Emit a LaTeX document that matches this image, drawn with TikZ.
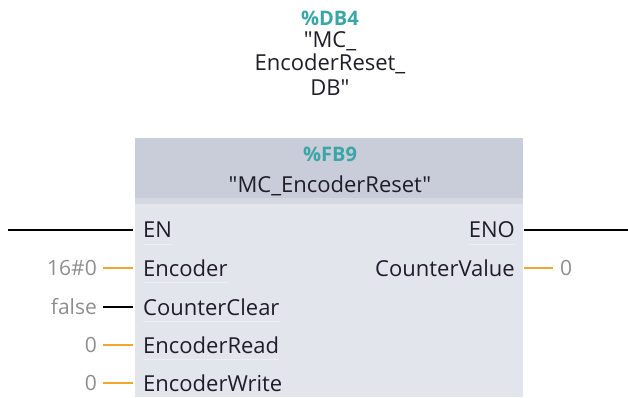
\documentclass[tikz,border=0pt]{standalone}
\usepackage{fontspec}
\setmainfont{Open Sans}[Ligatures=TeXOff]
\definecolor{hdrfill}{HTML}{C9CCD9}
\definecolor{bodyfill}{HTML}{E3E5EC}
\definecolor{tagteal}{HTML}{3AA6A8}
\definecolor{amber}{HTML}{F2A62C}
\definecolor{paramgray}{HTML}{8E8E8E}
\definecolor{ink}{HTML}{1E1E28}
\tikzset{
  txt/.style={inner sep=0pt, text=ink, font=\fontsize{22}{24}\selectfont},
  tag/.style={txt, text=tagteal, font=\fontsize{20}{24}\selectfont\bfseries},
  pinin/.style={txt, anchor=west},
  pinout/.style={txt, anchor=east},
  param/.style={inner sep=0pt, text=paramgray, font=\fontsize{21}{24}\selectfont},
  boolwire/.style={draw=black, line width=2.8pt},
  numwire/.style={draw=amber, line width=2.8pt},
  sep/.style={draw=white, draw opacity=0.4, line width=1pt}
}
\begin{document}
\begin{tikzpicture}[x=1pt,y=-1pt]
\useasboundingbox (0,0) rectangle (628,397);
% instance data block above the box
\node[tag] (db) at (330,18) {\%DB4};
\node[txt] (db1) at (330,41) {"MC\_};
\node[txt] (db2) at (330,64) {EncoderReset\_};
\node[txt] (db3) at (330,88) {DB"};
% function block body and header
\fill[bodyfill] (135,138) rectangle (523,397);
\fill[hdrfill] (135,138) rectangle (523,198);
\fill[hdrfill!55!bodyfill] (135,198) rectangle (523,204);
\node[tag] (fb) at (330,154) {\%FB9};
\node[txt] (fbname) at (330,186) {"MC\_EncoderReset"};
% input pins
\node[pinin] (en) at (143,230) {EN};
\node[pinin] (enc) at (143,268) {Encoder};
\node[pinin] (clr) at (143,307) {CounterClear};
\node[pinin] (rd) at (143,345) {EncoderRead};
\node[pinin] (wr) at (143,383) {EncoderWrite};
% output pins
\node[pinout] (eno) at (515,230) {ENO};
\node[pinout] (cv) at (515,268) {CounterValue};
% separators under pin names
\foreach \p in {en,enc,clr,rd}
  \draw[sep] ([yshift=-6pt]\p.south west) -- ([yshift=-6pt]\p.south east);
\draw[sep] ([yshift=-6pt]eno.south west) -- ([yshift=-6pt]eno.south east);
% actual parameters
\node[param, anchor=east] (penc) at (97,268) {16\#0};
\node[param, anchor=east] (pclr) at (97,307) {false};
\node[param, anchor=east] (prd) at (97,345) {0};
\node[param, anchor=east] (pwr) at (97,383) {0};
\node[param, anchor=west] (pcv) at (560,268) {0};
% wire end points
\coordinate (enL) at (8,230);
\coordinate (enoR) at (628,230);
\coordinate (inEdge) at (133,0);
\coordinate (outEdge) at (524,0);
% wires
\draw[boolwire] (enL) -- (en.west -| inEdge);
\draw[boolwire] (eno.east -| outEdge) -- (enoR);
\draw[numwire] ([xshift=6pt]penc.east) -- (enc.west -| inEdge);
\draw[boolwire] ([xshift=6pt]pclr.east) -- (clr.west -| inEdge);
\draw[numwire] ([xshift=6pt]prd.east) -- (rd.west -| inEdge);
\draw[numwire] ([xshift=6pt]pwr.east) -- (wr.west -| inEdge);
\draw[numwire] (cv.east -| outEdge) -- ([xshift=-7pt]pcv.west);
\end{tikzpicture}
\end{document}
